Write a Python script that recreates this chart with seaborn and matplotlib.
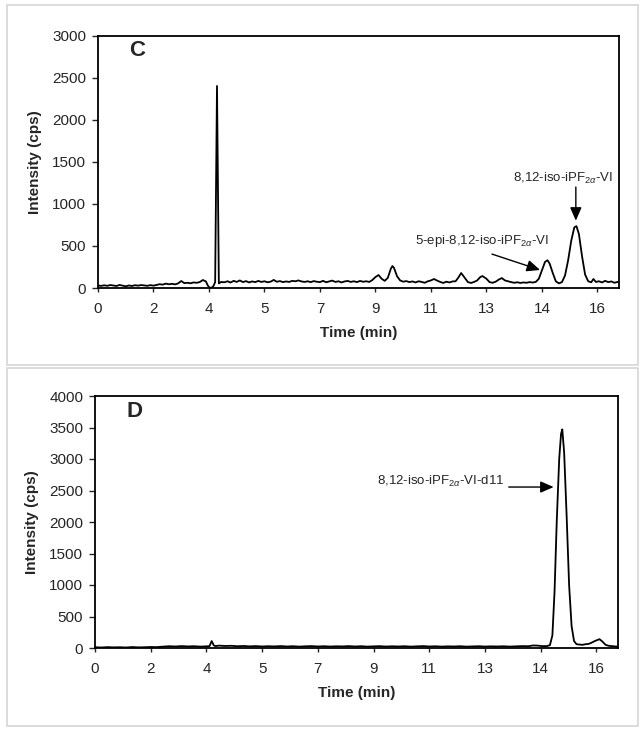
import numpy as np
import pandas as pd
import matplotlib.pyplot as plt
import seaborn as sns
from matplotlib.patches import Rectangle

# --- data (time in min, intensity in cps) ---
c_time = [0.0, 0.1, 0.2, 0.3, 0.4, 0.5, 0.6, 0.7, 0.8, 0.9,
          1.0, 1.1, 1.2, 1.3, 1.4, 1.5, 1.6, 1.7, 1.8, 1.9,
          2.0, 2.1, 2.2, 2.3, 2.4, 2.5, 2.6, 2.7, 2.8, 2.9,
          3.0, 3.1, 3.2, 3.3, 3.4, 3.5, 3.56, 3.62, 3.68, 3.74, 3.80, 3.86, 3.92,
          4.0, 4.1, 4.2, 4.3, 4.4, 4.5, 4.6, 4.7, 4.8, 4.9,
          5.0, 5.1, 5.2, 5.3, 5.4, 5.5, 5.6, 5.7, 5.8, 5.9,
          6.0, 6.1, 6.2, 6.3, 6.4, 6.5, 6.6, 6.7, 6.8, 6.9,
          7.0, 7.1, 7.2, 7.3, 7.4, 7.5, 7.6, 7.7, 7.8, 7.9,
          8.0, 8.1, 8.2, 8.3, 8.4, 8.5, 8.6, 8.7, 8.8, 8.9,
          9.0, 9.1, 9.2, 9.3, 9.4, 9.5, 9.55, 9.6, 9.7, 9.8, 9.9,
          10.0, 10.1, 10.2, 10.3, 10.4, 10.5, 10.6, 10.7, 10.8, 10.9,
          11.0, 11.1, 11.2, 11.3, 11.4, 11.5, 11.6, 11.7, 11.78, 11.9,
          12.0, 12.1, 12.2, 12.3, 12.4, 12.47, 12.6, 12.7, 12.8, 12.9,
          13.0, 13.1, 13.2, 13.3, 13.4, 13.5, 13.6, 13.7, 13.8, 13.9,
          14.0, 14.1, 14.2, 14.3, 14.4, 14.5, 14.58, 14.65, 14.75, 14.85, 14.95,
          15.05, 15.15, 15.25, 15.35, 15.45, 15.52, 15.6, 15.7, 15.8, 15.9,
          16.0, 16.07, 16.15, 16.25, 16.35, 16.45, 16.55, 16.65, 16.75, 16.85, 16.9]
c_int = [30, 25, 32, 26, 35, 30, 24, 36, 28, 20,
         30, 24, 33, 28, 35, 30, 26, 34, 28, 36,
         45, 40, 52, 44, 50, 43, 55, 83, 58, 62,
         56, 66, 62, 70, 95, 78, 30, 4, 3, 20, 70, 2400, 55,
         72, 68, 80, 65, 85, 72, 90, 70, 82, 66,
         78, 70, 84, 72, 80, 68, 75, 96, 74, 82,
         70, 78, 72, 85, 80, 90, 78, 72, 80, 70,
         82, 74, 70, 85, 68, 78, 88, 72, 80, 66,
         78, 84, 72, 80, 70, 84, 74, 80, 72, 95,
         130, 154, 110, 85, 120, 230, 261, 240, 140, 90, 75,
         82, 70, 78, 66, 80, 72, 62, 80, 90, 107,
         88, 72, 60, 75, 66, 78, 80, 130, 178, 120,
         70, 60, 72, 90, 130, 142, 110, 70, 62, 75,
         100, 118, 90, 80, 70, 62, 68, 60, 66, 62,
         70, 65, 72, 110, 210, 310, 330, 290, 180, 80, 55,
         70, 150, 330, 560, 720, 735, 640, 380, 160, 80,
         68, 107, 72, 80, 66, 85, 70, 78, 62, 72, 65]

d_time = [0.0, 0.2, 0.4, 0.6, 0.8, 1.0, 1.2, 1.4, 1.6, 1.8,
          2.0, 2.2, 2.4, 2.6, 2.8, 3.0, 3.2, 3.4, 3.6, 3.7, 3.77, 3.84, 3.9,
          4.0, 4.2, 4.4, 4.6, 4.8, 5.0, 5.2, 5.4, 5.6, 5.8,
          6.0, 6.2, 6.4, 6.6, 6.8, 7.0, 7.2, 7.4, 7.6, 7.8,
          8.0, 8.2, 8.4, 8.6, 8.8, 9.0, 9.2, 9.4, 9.6, 9.8,
          10.0, 10.2, 10.4, 10.6, 10.8, 11.0, 11.2, 11.4, 11.6, 11.8,
          12.0, 12.2, 12.4, 12.6, 12.8, 13.0, 13.2, 13.4, 13.6, 13.8,
          14.0, 14.15, 14.3, 14.45, 14.6, 14.7, 14.78, 14.85, 14.92, 15.0,
          15.06, 15.1, 15.16, 15.24, 15.32, 15.4, 15.48, 15.56, 15.65, 15.75,
          15.85, 15.95, 16.05, 16.15, 16.3, 16.38, 16.5, 16.6, 16.7, 16.8, 16.9]
d_int = [12, 8, 14, 10, 12, 8, 15, 10, 12, 16,
         14, 22, 28, 24, 30, 25, 28, 22, 26, 30, 110, 40, 30,
         38, 32, 35, 28, 32, 26, 30, 24, 28, 25,
         30, 24, 28, 22, 27, 30, 24, 28, 23, 27,
         25, 30, 24, 28, 22, 26, 29, 23, 27, 24,
         28, 22, 26, 30, 24, 27, 22, 26, 24, 28,
         22, 25, 28, 23, 26, 24, 27, 22, 26, 30,
         28, 40, 38, 30, 30, 45, 200, 900, 2000, 3000,
         3400, 3470, 3100, 2100, 1000, 350, 110, 60, 55, 50,
         60, 65, 85, 110, 140, 110, 50, 35, 30, 25, 22]

x_tick_labels = ['0', '2', '4', '5', '7', '9', '11', '13', '14', '16']
x_tick_step = 1.8

sns.set_style('ticks')
plt.rcParams['font.family'] = ['Liberation Sans', 'DejaVu Sans']
plt.rcParams['mathtext.fontset'] = 'custom'
plt.rcParams['mathtext.rm'] = 'Liberation Sans'
plt.rcParams['mathtext.it'] = 'Liberation Sans:italic'

W, H = 642, 731
fig = plt.figure(figsize=(W / 100, H / 100), dpi=100)

# light grey frames around each panel
for top, bottom in [(5, 365), (368, 726)]:
    fig.add_artist(Rectangle((7 / W, 1 - bottom / H), (638 - 7) / W, (bottom - top) / H,
                             transform=fig.transFigure, fill=False,
                             edgecolor='#d6d6d6', lw=1.2))


def axes_px(left, right, top, bottom):
    return fig.add_axes([left / W, 1 - bottom / H, (right - left) / W, (bottom - top) / H])


ax_c = axes_px(98, 619, 35.5, 288)
ax_d = axes_px(95, 618, 396, 648)

panels = [(ax_c, c_time, c_int, 3000, 'C'), (ax_d, d_time, d_int, 4000, 'D')]
for ax, t, y, ymax, letter in panels:
    df = pd.DataFrame({'time': t, 'intensity': y})
    sns.lineplot(data=df, x='time', y='intensity', ax=ax, color='black', lw=1.3)
    ax.set_xlim(0, 16.9)
    ax.set_ylim(0, ymax)
    ax.set_xticks([i * x_tick_step for i in range(len(x_tick_labels))])
    ax.set_xticklabels(x_tick_labels)
    ax.set_yticks(np.arange(0, ymax + 1, 500))
    ax.tick_params(axis='x', direction='out', length=3, width=1, pad=7, labelsize=11)
    ax.tick_params(axis='y', direction='out', length=4.5, width=1, pad=4, labelsize=11)
    for s in ax.spines.values():
        s.set_visible(True)
        s.set_linewidth(1.3)
        s.set_color('black')
    ax.set_xlabel('Time (min)', fontsize=11, fontweight='bold', labelpad=7)
    ax.set_ylabel('Intensity (cps)', fontsize=11, fontweight='bold', labelpad=7)
    ax.text(0.075, 0.94, letter, transform=ax.transAxes, fontsize=16,
            fontweight='bold', ha='center', va='center')

arrow = dict(arrowstyle='-|>,head_length=0.8,head_width=0.35', color='black', lw=1.0,
             shrinkA=0, shrinkB=0)

ax_c.text(15.08, 1305, r'8,12-iso-iPF$_{2\alpha}$-VI', fontsize=9.5, ha='center', va='center')
ax_c.annotate('', xy=(15.5, 800), xytext=(15.5, 1200), arrowprops=arrow)
ax_c.text(12.45, 557, r'5-epi-8,12-iso-iPF$_{2\alpha}$-VI', fontsize=9.5, ha='center', va='center')
ax_c.annotate('', xy=(14.34, 214), xytext=(12.78, 403), arrowprops=arrow)

ax_d.text(13.24, 2640, r'8,12-iso-iPF$_{2\alpha}$-VI-d11', fontsize=9.5, ha='right', va='center')
ax_d.annotate('', xy=(14.82, 2555), xytext=(13.37, 2555), arrowprops=arrow)

fig.savefig('out.png', dpi=100)
